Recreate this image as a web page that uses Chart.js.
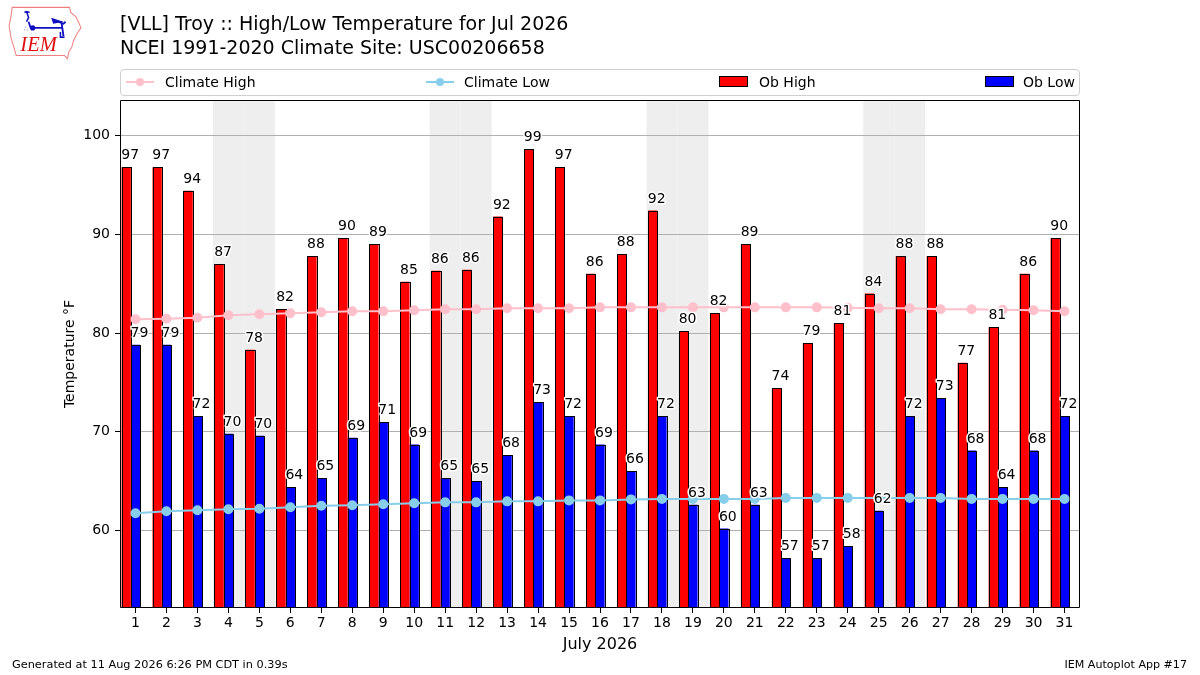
<!DOCTYPE html>
<html>
<head>
<meta charset="utf-8">
<script src="https://cdn.jsdelivr.net/npm/chart.js@4.4.1/dist/chart.umd.min.js"></script>
<style>
  html, body { margin: 0; padding: 0; background: #fff; }
  #wrap { position: relative; width: 1200px; height: 675px; overflow: hidden; font-family: "DejaVu Sans", sans-serif; color: #000; }
  #c { position: absolute; left: 0; top: 0; }
  .t { position: absolute; white-space: nowrap; }
  #title1 { left: 120px; top: 11px; font-size: 19px; line-height: 24px; }
  #title2 { left: 120px; top: 35px; font-size: 19px; line-height: 24px; }
  #legend { position: absolute; left: 120px; top: 69px; width: 958px; height: 25px; border: 1px solid #d0d0d0; border-radius: 4px; background: rgba(255,255,255,0.8); }
  .lg { position: absolute; top: 3px; font-size: 14px; line-height: 18px; }
  .ln { position: absolute; top: 11px; height: 2px; width: 28px; }
  .mk { position: absolute; top: 8px; width: 8px; height: 8px; border-radius: 50%; }
  .pt { position: absolute; top: 6px; width: 27px; height: 9px; border: 1px solid #000; }
  #foot1 { left: 12px; top: 658px; font-size: 11.3px; }
  #foot2 { right: 13px; top: 658px; font-size: 11.1px; }
  #logo { position: absolute; left: 6px; top: 3px; }
</style>
</head>
<body>
<div id="wrap">
  <canvas id="c" width="1200" height="675"></canvas>
  <svg id="logo" width="78" height="58" viewBox="0 0 76 56">
    <path d="M6 4 L62 4 L63 9 L68 13 L71 19 L73 24 L69 30 L66 36 L64 43 L61 48 L60 54 L57 51 L10 51 L8 44 L5 34 L3 22 L5 12 Z" fill="#fff" stroke="#f08080" stroke-width="1"/>
    <path d="M20 8 L22 14 L20 18 M18 9 L20 8 L23 9" fill="none" stroke="#1010c0" stroke-width="1.5"/>
    <path d="M22 18 L24 24 L54 24 M54 18 L56 32 M48 17 L56 20 L58 18" fill="none" stroke="#1010c0" stroke-width="1.8"/>
    <circle cx="26" cy="24" r="2.6" fill="#1010c0"/>
    <path d="M44 14 L56 18 L46 20 Z" fill="#1010c0"/>
    <path d="M53 28 L53 33 L57 33" fill="none" stroke="#1010c0" stroke-width="1.5"/>
    <text x="17" y="27" font-size="7" fill="#1010c0" font-family="DejaVu Sans">∴</text>
    <text x="14" y="47" font-size="20" font-style="italic" font-family="Liberation Serif" fill="#dd1111">IEM</text>
  </svg>
  <div class="t" id="title1">[VLL] Troy :: High/Low Temperature for Jul 2026</div>
  <div class="t" id="title2">NCEI 1991-2020 Climate Site: USC00206658</div>
  <div id="legend">
    <div class="ln" style="left:5px;background:#ffc0cb"></div>
    <div class="mk" style="left:15px;background:#ffc0cb"></div>
    <div class="lg" style="left:44px">Climate High</div>
    <div class="ln" style="left:305px;background:#87ceeb"></div>
    <div class="mk" style="left:315px;background:#87ceeb"></div>
    <div class="lg" style="left:343px">Climate Low</div>
    <div class="pt" style="left:598px;background:#ff0000"></div>
    <div class="lg" style="left:638px">Ob High</div>
    <div class="pt" style="left:864px;background:#0000ff"></div>
    <div class="lg" style="left:902px">Ob Low</div>
  </div>
  <div class="t" id="foot1">Generated at 11 Aug 2026 6:26 PM CDT in 0.39s</div>
  <div class="t" id="foot2">IEM Autoplot App #17</div>
</div>
<script>
const days = ['1','2','3','4','5','6','7','8','9','10','11','12','13','14','15','16','17','18','19','20','21','22','23','24','25','26','27','28','29','30','31'];
const obHigh = [96.8,96.8,94.4,87.0,78.3,82.4,87.8,89.6,89.0,85.2,86.3,86.4,91.8,98.6,96.8,86.0,88.0,92.4,80.2,82.0,89.0,74.4,79.0,81.0,84.0,87.8,87.8,77.0,80.6,86.0,89.6];
const obLow = [78.8,78.8,71.6,69.8,69.6,64.4,65.3,69.4,71.0,68.7,65.3,65.0,67.6,73.0,71.6,68.7,66.0,71.6,62.6,60.2,62.6,57.2,57.2,58.4,62.0,71.6,73.4,68.1,64.4,68.1,71.6];
const climateHigh = [81.4,81.45,81.55,81.8,81.9,82.0,82.1,82.2,82.2,82.3,82.4,82.4,82.5,82.5,82.5,82.6,82.6,82.6,82.6,82.6,82.6,82.6,82.6,82.55,82.5,82.5,82.4,82.4,82.35,82.3,82.2];
const climateLow = [61.75,61.95,62.05,62.15,62.2,62.35,62.5,62.55,62.65,62.75,62.85,62.85,62.95,62.95,63.05,63.05,63.15,63.2,63.2,63.2,63.2,63.3,63.3,63.3,63.3,63.3,63.3,63.2,63.2,63.2,63.2];
const shadedDays = ['4','5','11','12','18','19','25','26'];
const yTicks = [60, 70, 80, 90, 100];
const yMin = 52.15, yMax = 103.6;

const bandPlugin = {
  id: 'bands',
  beforeDraw(chart) {
    const ctx = chart.ctx, a = chart.chartArea, x = chart.scales.x;
    ctx.save();
    ctx.fillStyle = '#fff';
    ctx.fillRect(0, 0, chart.width, chart.height);
    const w = (a.right - a.left) / days.length;
    ctx.fillStyle = '#eeeeee';
    shadedDays.forEach(d => {
      const cx = x.getPixelForValue(days.indexOf(d));
      ctx.fillRect(cx - w / 2, a.top, w, a.bottom - a.top);
    });
    ctx.restore();
  },
  afterDatasetDraw(chart, args) {
    if (args.index !== 0 && args.index !== 1) return;
    const ctx = chart.ctx, a = chart.chartArea;
    ctx.save();
    ctx.beginPath();
    ctx.rect(a.left, a.top, a.right - a.left, a.bottom - a.top);
    ctx.clip();
    ctx.strokeStyle = '#000';
    ctx.lineWidth = 1;
    args.meta.data.forEach(el => {
      const l = Math.round(el.x - el.width / 2), r = Math.round(el.x + el.width / 2);
      const t = Math.round(el.y), b = Math.round(Math.min(el.base, a.bottom));
      ctx.strokeRect(l + 0.5, t + 0.5, r - l, b - t);
    });
    ctx.restore();
  },
  afterDraw(chart) {
    const ctx = chart.ctx, a = chart.chartArea;
    ctx.save();
    ctx.font = '14px "DejaVu Sans"';
    ctx.textAlign = 'center';
    ctx.textBaseline = 'alphabetic';
    ctx.lineJoin = 'round';
    [0, 1].forEach(di => {
      const meta = chart.getDatasetMeta(di);
      const vals = chart.data.datasets[di].data;
      meta.data.forEach((el, i) => {
        const txt = String(Math.round(vals[i]));
        const tx = el.x + 4, ty = el.y - 8;
        ctx.strokeStyle = '#fff';
        ctx.lineWidth = 3;
        ctx.strokeText(txt, tx, ty);
        ctx.fillStyle = '#000';
        ctx.fillText(txt, tx, ty);
      });
    });
    ctx.strokeStyle = '#000';
    ctx.lineWidth = 1;
    ctx.strokeRect(Math.round(a.left) + 0.5, Math.round(a.top) + 0.5, Math.round(a.right - a.left) - 1, Math.round(a.bottom - a.top) - 1);
    ctx.restore();
  }
};

const barCommon = { borderWidth: 0, inflateAmount: 0, order: 2, categoryPercentage: 0.9, barPercentage: 1.0 };

new Chart(document.getElementById('c'), {
  data: {
    labels: days,
    datasets: [
      Object.assign({ type: 'bar', label: 'Ob High', data: obHigh, backgroundColor: '#ff0000' }, barCommon),
      Object.assign({ type: 'bar', label: 'Ob Low', data: obLow, backgroundColor: '#0000ff' }, barCommon),
      Object.assign({ type: 'bar', label: 'spacer', data: days.map(() => null), backgroundColor: 'rgba(0,0,0,0)' }, barCommon),
      { type: 'line', label: 'Climate High', data: climateHigh, borderColor: '#ffc0cb', backgroundColor: '#ffc0cb', pointBackgroundColor: '#ffc0cb', pointBorderColor: '#ffc0cb', pointRadius: 4, borderWidth: 2, order: 1 },
      { type: 'line', label: 'Climate Low', data: climateLow, borderColor: '#87ceeb', backgroundColor: '#87ceeb', pointBackgroundColor: '#87ceeb', pointBorderColor: '#87ceeb', pointRadius: 4, borderWidth: 2, order: 1 }
    ]
  },
  options: {
    responsive: false,
    animation: false,
    devicePixelRatio: 1,
    layout: { padding: { left: 0, right: 120, top: 100, bottom: 0 } },
    plugins: { legend: { display: false }, tooltip: { enabled: false }, title: { display: false } },
    scales: {
      x: {
        type: 'category',
        offset: true,
        grid: { display: true, drawOnChartArea: false, offset: false, tickLength: 5, color: '#000', tickColor: '#000' },
        border: { display: false },
        ticks: { color: '#000', font: { family: 'DejaVu Sans', size: 14 }, padding: 2, maxRotation: 0, autoSkip: false },
        title: { display: true, text: 'July 2026', color: '#000', font: { family: 'DejaVu Sans', size: 16 }, padding: { top: 0, bottom: 21 } },
        afterFit(s) { s.height = 67; }
      },
      y: {
        type: 'linear',
        min: yMin, max: yMax,
        afterBuildTicks(s) { s.ticks = yTicks.map(v => ({ value: v })); },
        grid: { color: '#b0b0b0', lineWidth: 1, tickLength: 5, tickColor: '#000' },
        border: { display: false },
        ticks: { color: '#000', font: { family: 'DejaVu Sans', size: 14 }, padding: 5 },
        title: { display: true, text: 'Temperature °F', color: '#000', font: { family: 'DejaVu Sans', size: 14 }, padding: { top: 62, bottom: 0 } },
        afterFit(s) { s.width = 120; }
      }
    }
  },
  plugins: [bandPlugin]
});
</script>
</body>
</html>
